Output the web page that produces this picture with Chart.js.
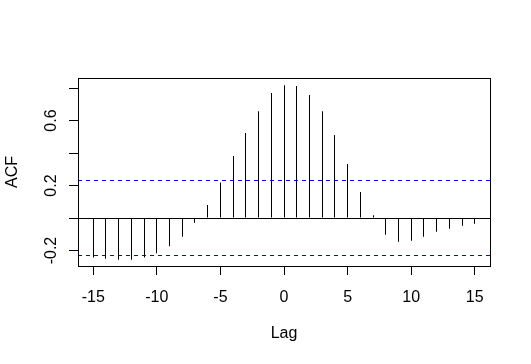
<!DOCTYPE html>
<html>
<head>
<meta charset="utf-8">
<script src="https://cdn.jsdelivr.net/npm/chart.js@4"></script>
<style>html, body { margin: 0; background: #fff; }</style>
</head>
<body>
<canvas id="acfChart" width="531" height="364"></canvas>
<script>
// lags and the sample cross-correlations
var lags = [-15, -14, -13, -12, -11, -10, -9, -8, -7, -6, -5, -4, -3, -2, -1,
            0, 1, 2, 3, 4, 5, 6, 7, 8, 9, 10, 11, 12, 13, 14, 15];
var acfValues = [-0.242, -0.250, -0.256, -0.256, -0.242, -0.217, -0.174, -0.115, -0.029, 0.080,
                 0.219, 0.382, 0.523, 0.658, 0.769, 0.818, 0.812, 0.757, 0.658, 0.511,
                 0.332, 0.160, 0.018, -0.103, -0.146, -0.139, -0.115, -0.084, -0.066, -0.047, -0.035];
var ciBound = 0.23;
var xTicks = [-15, -10, -5, 0, 5, 10, 15];
var yTicks = [-0.2, 0, 0.2, 0.4, 0.6, 0.8];
var yLabelled = [-0.2, 0.2, 0.6];
var xRange = [-16.2, 16.2];
var yRange = [-0.295, 0.862];

var fontSpec = { family: '"Liberation Sans", Arial, sans-serif', size: 16 };

// box round the plot region, like R's box()
var boxPlugin = {
  id: 'plotBox',
  afterDraw: function (chart) {
    var a = chart.chartArea, c = chart.ctx;
    c.save();
    c.strokeStyle = '#000';
    c.lineWidth = 1;
    c.strokeRect(Math.round(a.left) + 0.5, Math.round(a.top) + 0.5,
                 Math.round(a.right - a.left), Math.round(a.bottom - a.top));
    c.restore();
  }
};

// snap the thin lines onto pixel centres so they stay crisp
var snapPlugin = {
  id: 'snapLines',
  beforeDatasetsDraw: function (chart) {
    chart.data.datasets.forEach(function (ds, i) {
      chart.getDatasetMeta(i).data.forEach(function (el) {
        if (ds.type === 'bar') el.x = Math.floor(el.x) + 0.5;
        else el.y = Math.floor(el.y) + 0.5;
      });
    });
  }
};

function hLine(y) {
  return [{ x: xRange[0], y: y }, { x: xRange[1], y: y }];
}

var ctx = document.getElementById('acfChart').getContext('2d');
var acfChart = new Chart(ctx, {
  type: 'bar',
  data: {
    datasets: [{
      type: 'bar',
      label: 'ACF',
      data: lags.map(function (l, i) { return { x: l, y: acfValues[i] }; }),
      backgroundColor: '#000',
      borderWidth: 0,
      barThickness: 1,
      inflateAmount: 0,
      grouped: false
    }, {
      type: 'line',
      label: 'zero',
      data: hLine(0),
      borderColor: '#000',
      borderWidth: 1,
      pointRadius: 0
    }, {
      type: 'line',
      label: 'upper',
      data: hLine(ciBound),
      borderColor: '#0000ff',
      borderWidth: 1,
      borderDash: [4, 4],
      pointRadius: 0
    }, {
      type: 'line',
      label: 'lower',
      data: hLine(-ciBound),
      borderColor: '#0000ff',
      borderWidth: 1,
      borderDash: [4, 4],
      pointRadius: 0
    }]
  },
  options: {
    responsive: false,
    animation: false,
    layout: { padding: { top: 78, right: 41, left: 0, bottom: 0 } },
    plugins: { legend: { display: false }, tooltip: { enabled: false } },
    scales: {
      x: {
        type: 'linear',
        min: xRange[0],
        max: xRange[1],
        offset: false,
        afterFit: function (s) { s.height = 98; },
        afterBuildTicks: function (s) { s.ticks = xTicks.map(function (v) { return { value: v }; }); },
        border: { display: false },
        grid: { offset: false, drawOnChartArea: false, drawTicks: true, tickLength: 9, tickColor: '#000', tickWidth: 1 },
        ticks: { color: '#000', font: fontSpec, padding: 13, maxRotation: 0,
                 callback: function (v) { return String(v); } },
        title: { display: true, text: 'Lag', color: '#000', font: fontSpec, padding: { top: 0, bottom: 21 } }
      },
      y: {
        type: 'linear',
        min: yRange[0],
        max: yRange[1],
        afterFit: function (s) { s.width = 78; },
        afterBuildTicks: function (s) { s.ticks = yTicks.map(function (v) { return { value: v }; }); },
        border: { display: false },
        grid: { drawOnChartArea: false, drawTicks: true, tickLength: 9, tickColor: '#000', tickWidth: 1 },
        ticks: {
          color: '#000', font: fontSpec, padding: 4, minRotation: 90, maxRotation: 90,
          crossAlign: 'center',
          callback: function (v) {
            for (var i = 0; i < yLabelled.length; i++) {
              if (Math.abs(v - yLabelled[i]) < 1e-9) return yLabelled[i].toFixed(1);
            }
            return '';
          }
        },
        title: { display: true, text: 'ACF', color: '#000', font: fontSpec, padding: { top: 3, bottom: 0 } }
      }
    }
  },
  plugins: [snapPlugin, boxPlugin]
});
</script>
</body>
</html>
